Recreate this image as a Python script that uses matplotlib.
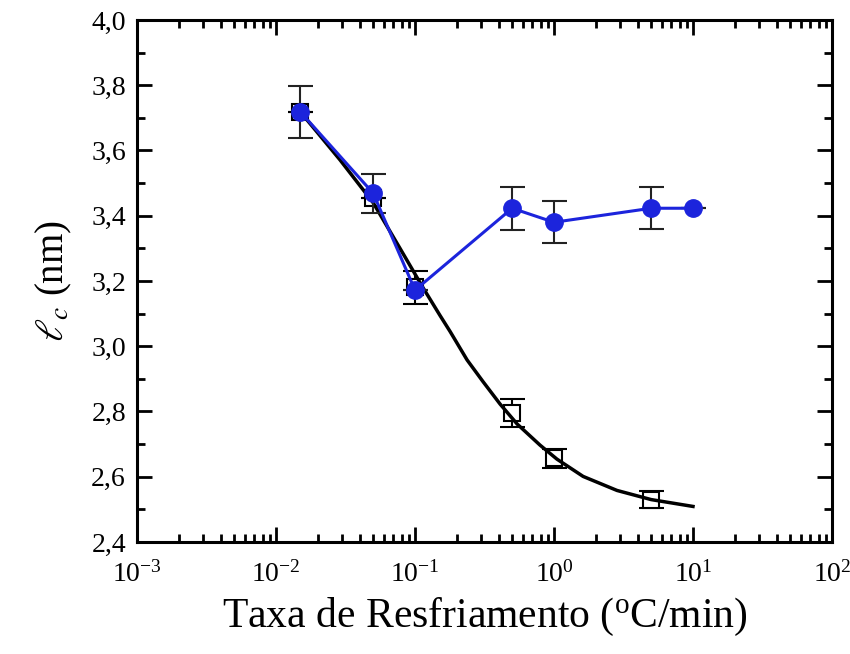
import numpy as np
import matplotlib
matplotlib.use('Agg')
import matplotlib.pyplot as plt
from matplotlib.ticker import FuncFormatter, MultipleLocator, LogLocator

plt.rcParams['font.family'] = ['Liberation Serif', 'DejaVu Serif']
plt.rcParams['mathtext.fontset'] = 'stix'

# blue series (filled circles)
rate_blue = [0.015, 0.05, 0.1, 0.5, 1.0, 5.0, 10.0]
lc_blue = [3.718, 3.469, 3.172, 3.423, 3.380, 3.423, 3.423]
err_blue = [0.08, 0.06, 0.0, 0.066, 0.065, 0.065, 0.0]

# black series (open squares)
rate_sq = [0.015, 0.05, 0.1, 0.5, 1.0, 5.0]
lc_sq = [3.718, 3.454, 3.181, 2.795, 2.656, 2.530]
err_sq = [0.0, 0.0, 0.05, 0.043, 0.03, 0.025]

# fitted curve
rate_fit = [0.015, 0.0289, 0.05, 0.078, 0.114, 0.151, 0.179, 0.237, 0.308,
            0.409, 0.542, 0.793, 1.05, 1.62, 2.84, 5.0, 10.0]
lc_fit = [3.718, 3.571, 3.440, 3.300, 3.180, 3.095, 3.045, 2.958, 2.892,
          2.823, 2.762, 2.697, 2.654, 2.601, 2.558, 2.530, 2.509]

fig = plt.figure(figsize=(8.5, 6.54), dpi=100)
ax = fig.add_axes([137 / 850, 1 - 542 / 654, (832 - 137) / 850, (542 - 20) / 654])

blue = '#1c24dc'
ax.errorbar(rate_sq, lc_sq, yerr=err_sq, fmt='s', mfc='white', mec='black',
            ms=12, mew=1.5, color='black', ecolor='black', elinewidth=1.5,
            capsize=9, capthick=1.5, zorder=2)
ax.plot(rate_fit, lc_fit, '-', color='black', lw=2.5, zorder=3,
        solid_joinstyle='round')
ax.errorbar(rate_blue, lc_blue, yerr=err_blue, fmt='-o', color=blue,
            mfc=blue, mec=blue, ms=12.5, lw=2.2, ecolor='#222222',
            elinewidth=1.5, capsize=9, capthick=1.5, zorder=4)

ax.set_xscale('log')
ax.set_xlim(1e-3, 1e2)
ax.set_ylim(2.4, 4.0)
ax.yaxis.set_major_locator(MultipleLocator(0.2))
ax.yaxis.set_minor_locator(MultipleLocator(0.1))
ax.yaxis.set_major_formatter(FuncFormatter(lambda v, p: ('%.1f' % v).replace('.', ',')))
ax.xaxis.set_major_locator(LogLocator(base=10, numticks=10))
ax.xaxis.set_minor_locator(LogLocator(base=10, subs=np.arange(2, 10), numticks=20))
ax.xaxis.set_major_formatter(FuncFormatter(lambda v, p: r'$\mathregular{10^{%d}}$' % round(np.log10(v))))

ax.tick_params(which='both', direction='in', top=True, right=True, width=2,
               labelsize=20, colors='black')
ax.tick_params(which='major', length=11)
ax.tick_params(which='minor', length=6)
ax.tick_params(axis='y', which='major', pad=8)
ax.tick_params(axis='x', which='major', pad=14)
for s in ax.spines.values():
    s.set_linewidth(2.2)

ax.set_xlabel('Taxa de Resfriamento ($\\mathregular{^{o}}$C/min)', fontsize=30, labelpad=6)
ax.set_ylabel(r'$\ell_{c}$ (nm)', fontsize=28, labelpad=12)

fig.savefig('out.png', dpi=100)
